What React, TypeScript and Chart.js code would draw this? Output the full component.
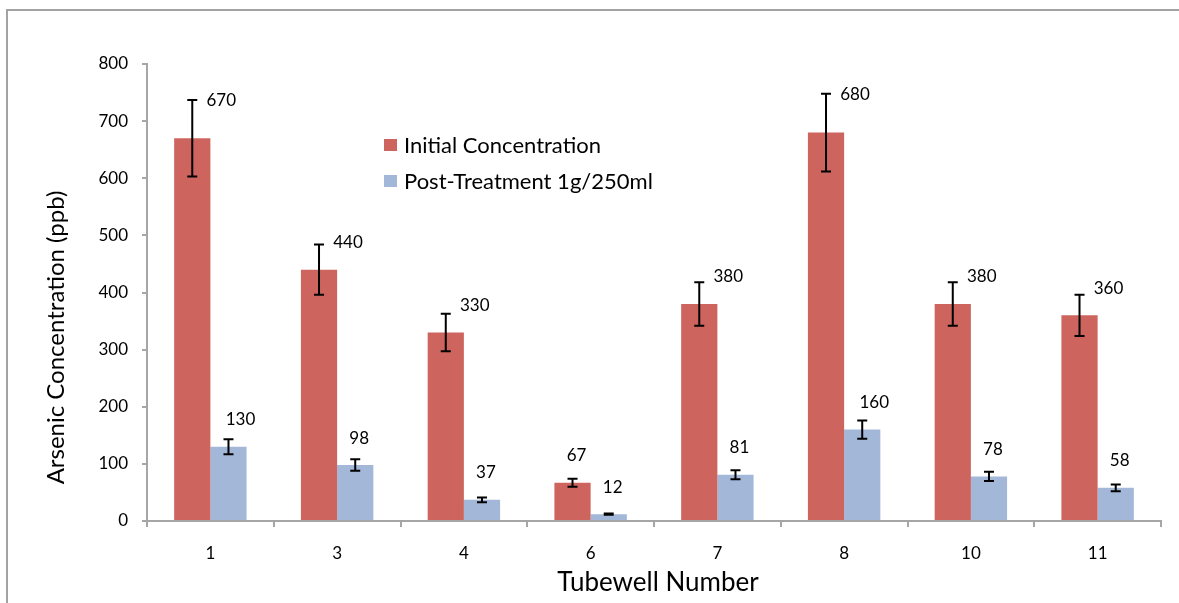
import React, { useEffect, useRef } from "react";
import { Chart, registerables } from "chart.js";

Chart.register(...registerables);

const categories = ["1", "3", "4", "6", "7", "8", "10", "11"];
const initialValues = [670, 440, 330, 67, 380, 680, 380, 360];
const postValues = [130, 98, 37, 12, 81, 160, 78, 58];
const initialErrors = [67, 44, 33, 7, 38, 68, 38, 36];
const postErrors = [13, 10, 4, 1.2, 8, 16, 8, 6];
const yTicks = [0, 100, 200, 300, 400, 500, 600, 700, 800];

const seriesNames = ["Initial Concentration", "Post-Treatment 1g/250ml"];
const seriesColors = ["#CD645E", "#A3B7D9"];
const FONT = "Lato, 'Open Sans', sans-serif";

const errorsBySeries = [initialErrors, postErrors];

const overlayPlugin = {
  id: "overlay",
  afterDatasetsDraw(chart: any) {
    const ctx = chart.ctx;
    const y = chart.scales.y;
    ctx.save();
    chart.data.datasets.forEach((ds: any, di: number) => {
      const meta = chart.getDatasetMeta(di);
      meta.data.forEach((bar: any, i: number) => {
        const v = ds.data[i];
        const e = errorsBySeries[di][i];
        const cx = bar.x;
        const top = y.getPixelForValue(v + e);
        const bot = y.getPixelForValue(v - e);
        const barTop = y.getPixelForValue(v);
        ctx.strokeStyle = "#000";
        ctx.lineWidth = 2;
        ctx.beginPath();
        ctx.moveTo(cx, top);
        ctx.lineTo(cx, bot);
        ctx.moveTo(cx - 5, top);
        ctx.lineTo(cx + 5, top);
        ctx.moveTo(cx - 5, bot);
        ctx.lineTo(cx + 5, bot);
        ctx.stroke();
        const half = (bot - top) / 2;
        const dx = half < 7 ? 4 : di === 0 ? 29 : 12;
        const ly = Math.min(top + 1, barTop - 27);
        ctx.fillStyle = "#000";
        ctx.font = `17px ${FONT}`;
        ctx.textAlign = "center";
        ctx.textBaseline = "middle";
        ctx.fillText(String(v), cx + dx, ly);
      });
    });
    ctx.restore();
  },
  afterDraw(chart: any) {
    const ctx = chart.ctx;
    const a = chart.chartArea;
    ctx.save();
    seriesNames.forEach((name, i) => {
      const lx = a.left + 237;
      const ly = a.top + 81 + i * 36;
      ctx.fillStyle = seriesColors[i];
      ctx.fillRect(lx, ly - 6, 13, 12);
      ctx.fillStyle = "#000";
      ctx.font = `22px ${FONT}`;
      ctx.textAlign = "left";
      ctx.textBaseline = "middle";
      ctx.fillText(name, lx + 20, ly + 1);
    });
    ctx.font = `26px ${FONT}`;
    ctx.fillStyle = "#000";
    ctx.textAlign = "center";
    ctx.textBaseline = "middle";
    ctx.fillText("Tubewell Number", (a.left + a.right) / 2 + 4, a.bottom + 62);
    ctx.font = `24px ${FONT}`;
    ctx.translate(a.left - 91, (a.top + a.bottom) / 2 + 45);
    ctx.rotate(-Math.PI / 2);
    ctx.fillText("Arsenic Concentration (ppb)", 0, 0);
    ctx.restore();
  },
};

export default function App() {
  const ref = useRef<HTMLCanvasElement | null>(null);
  useEffect(() => {
    if (!ref.current) return;
    const axisColor = "#A6A6A6";
    const chart = new Chart(ref.current, {
      type: "bar",
      data: {
        labels: categories,
        datasets: [
          {
            label: seriesNames[0],
            data: initialValues,
            backgroundColor: seriesColors[0],
            categoryPercentage: 2 / 3.5,
            barPercentage: 1,
          },
          {
            label: seriesNames[1],
            data: postValues,
            backgroundColor: seriesColors[1],
            categoryPercentage: 2 / 3.5,
            barPercentage: 1,
          },
        ],
      },
      options: {
        responsive: false,
        maintainAspectRatio: false,
        animation: false,
        devicePixelRatio: 1,
        layout: { padding: { left: 0, right: 9, top: 53, bottom: 0 } },
        plugins: { legend: { display: false }, tooltip: { enabled: false } },
        scales: {
          x: {
            grid: {
              offset: true,
              drawOnChartArea: false,
              tickLength: 6,
              color: axisColor,
              lineWidth: 2,
            },
            border: { color: axisColor, width: 2 },
            ticks: { color: "#000", font: { family: FONT, size: 17 }, padding: 16 },
            afterFit: (s: any) => {
              s.height = 82;
            },
          },
          y: {
            min: 0,
            max: 800,
            afterBuildTicks: (s: any) => {
              s.ticks = yTicks.map((v) => ({ value: v }));
            },
            grid: {
              drawOnChartArea: false,
              tickLength: 5,
              color: axisColor,
              lineWidth: 2,
            },
            border: { color: axisColor, width: 2 },
            ticks: { color: "#000", font: { family: FONT, size: 17 }, padding: 14 },
            afterFit: (s: any) => {
              s.width = 139;
            },
          },
        },
      },
      plugins: [overlayPlugin],
    });
    return () => chart.destroy();
  }, []);

  return (
    <div
      style={{
        position: "fixed",
        left: 6,
        top: 9,
        width: 1173,
        height: 594,
        overflow: "hidden",
        boxSizing: "border-box",
        borderLeft: "2px solid #A3A3A3",
        borderTop: "2px solid #A3A3A3",
        background: "#fff",
      }}
    >
      <canvas
        ref={ref}
        width={1162}
        height={592}
        style={{ position: "absolute", left: 0, top: 0, width: 1162, height: 592 }}
      />
    </div>
  );
}
